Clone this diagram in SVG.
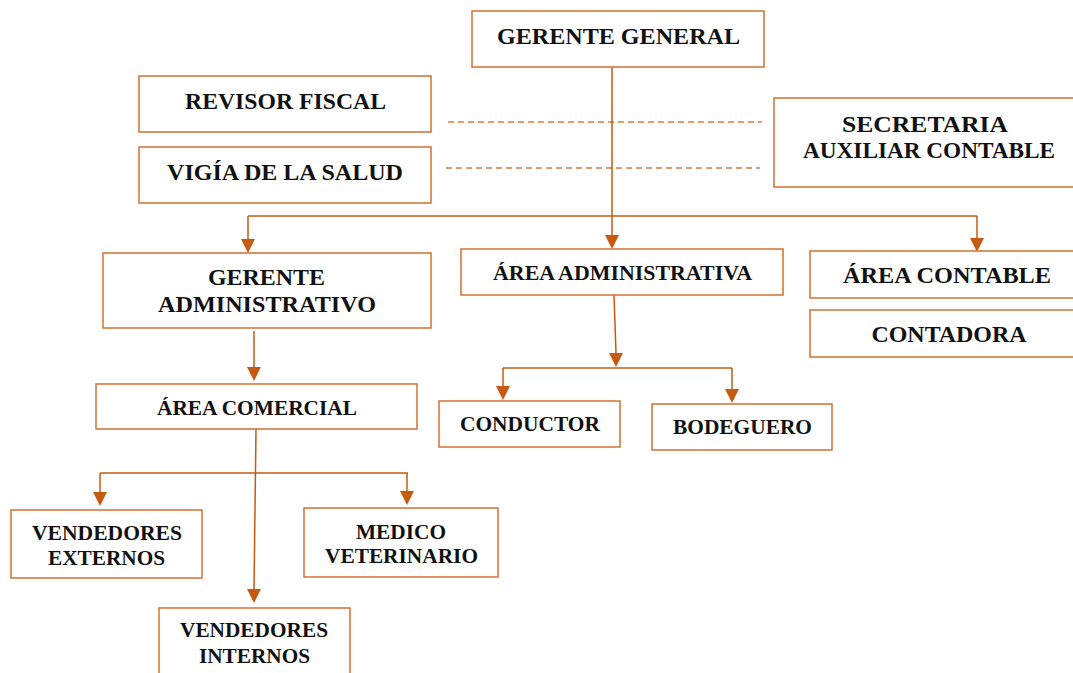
<svg xmlns="http://www.w3.org/2000/svg" width="1073" height="673" viewBox="0 0 1073 673">
<style>
.box{fill:#fff;stroke:#D5793F;stroke-width:1.6}
.t{font-family:"Liberation Serif","Times New Roman",serif;font-weight:bold;fill:#111;text-anchor:middle}
.b{font-size:23px}
.s{font-size:20.5px}
.ln{fill:none;stroke:#C55A11;stroke-width:1.5}
.ah{fill:#C55A11}
.dash{fill:none;stroke:#D5793F;stroke-width:1.5;stroke-dasharray:6,4}
</style>
<rect width="1073" height="673" fill="#fff"/>
<g id="connectors">
<path class="dash" d="M448,122 H762"/>
<path class="dash" d="M446,168 H760"/>
<path class="ln" d="M612,67 V236"/>
<path class="ah" d="M605,235 L619,235 L612,249 z"/>
<path class="ln" d="M248,216 H977"/>
<path class="ln" d="M248,216 V240"/>
<path class="ah" d="M241,239 L255,239 L248,253 z"/>
<path class="ln" d="M977,216 V240"/>
<path class="ah" d="M970,238 L984,238 L977,252 z"/>
<path class="ln" d="M254,331 V368"/>
<path class="ah" d="M247,367 L261,367 L254,381 z"/>
<path class="ln" d="M614,295 L616,354"/>
<path class="ah" d="M609,353 L623,353 L616,367 z"/>
<path class="ln" d="M503,368 H732"/>
<path class="ln" d="M503,368 V386"/>
<path class="ah" d="M496,386 L510,386 L503,400 z"/>
<path class="ln" d="M732,368 V389"/>
<path class="ah" d="M725,389 L739,389 L732,403 z"/>
<path class="ln" d="M256,429 L254,590"/>
<path class="ah" d="M247,589 L261,589 L254,603 z"/>
<path class="ln" d="M100,473 H408"/>
<path class="ln" d="M100,473 V492"/>
<path class="ah" d="M93,492 L107,492 L100,506 z"/>
<path class="ln" d="M407,473 V491"/>
<path class="ah" d="M400,491 L414,491 L407,505 z"/>
</g>
<g id="gerente-general"><rect class="box" x="472" y="11" width="292" height="56"/><text class="t b" x="618.5" y="44" textLength="243" lengthAdjust="spacingAndGlyphs">GERENTE GENERAL</text></g>
<g id="revisor-fiscal"><rect class="box" x="139" y="76" width="292" height="56"/><text class="t b" x="285.5" y="109" textLength="201" lengthAdjust="spacingAndGlyphs">REVISOR FISCAL</text></g>
<g id="vigia"><rect class="box" x="139" y="147" width="292" height="56"/><text class="t b" x="285" y="180" textLength="236" lengthAdjust="spacingAndGlyphs">VIGÍA DE LA SALUD</text></g>
<g id="secretaria"><rect class="box" x="774" y="98" width="310" height="89"/><text class="t b" x="925" y="132" textLength="166" lengthAdjust="spacingAndGlyphs">SECRETARIA</text><text class="t b" x="929" y="158" textLength="252" lengthAdjust="spacingAndGlyphs">AUXILIAR CONTABLE</text></g>
<g id="gerente-administrativo"><rect class="box" x="103" y="253" width="328" height="75"/><text class="t b" x="266.5" y="285" textLength="117" lengthAdjust="spacingAndGlyphs">GERENTE</text><text class="t b" x="267" y="312" textLength="218" lengthAdjust="spacingAndGlyphs">ADMINISTRATIVO</text></g>
<g id="area-administrativa"><rect class="box" x="461" y="249" width="322" height="46"/><text class="t s" x="622.5" y="280" textLength="259" lengthAdjust="spacingAndGlyphs">ÁREA ADMINISTRATIVA</text></g>
<g id="area-contable"><rect class="box" x="810" y="251" width="270" height="47"/><text class="t b" x="947" y="283" textLength="208" lengthAdjust="spacingAndGlyphs">ÁREA CONTABLE</text></g>
<g id="contadora"><rect class="box" x="810" y="310" width="270" height="47"/><text class="t b" x="949" y="342" textLength="155" lengthAdjust="spacingAndGlyphs">CONTADORA</text></g>
<g id="area-comercial"><rect class="box" x="96" y="384" width="321" height="45"/><text class="t s" x="257" y="415" textLength="200" lengthAdjust="spacingAndGlyphs">ÁREA COMERCIAL</text></g>
<g id="conductor"><rect class="box" x="439" y="401" width="181" height="46"/><text class="t s" x="530" y="431" textLength="140" lengthAdjust="spacingAndGlyphs">CONDUCTOR</text></g>
<g id="bodeguero"><rect class="box" x="652" y="404" width="180" height="46"/><text class="t s" x="742.5" y="434" textLength="139" lengthAdjust="spacingAndGlyphs">BODEGUERO</text></g>
<g id="vendedores-externos"><rect class="box" x="11" y="510" width="191" height="68"/><text class="t s" x="107" y="540" textLength="150" lengthAdjust="spacingAndGlyphs">VENDEDORES</text><text class="t s" x="106.5" y="565" textLength="117" lengthAdjust="spacingAndGlyphs">EXTERNOS</text></g>
<g id="medico-veterinario"><rect class="box" x="304" y="508" width="194" height="69"/><text class="t s" x="401" y="539" textLength="90" lengthAdjust="spacingAndGlyphs">MEDICO</text><text class="t s" x="401.5" y="563" textLength="153" lengthAdjust="spacingAndGlyphs">VETERINARIO</text></g>
<g id="vendedores-internos"><rect class="box" x="159" y="608" width="191" height="75"/><text class="t s" x="254" y="637" textLength="148" lengthAdjust="spacingAndGlyphs">VENDEDORES</text><text class="t s" x="254.5" y="663" textLength="111" lengthAdjust="spacingAndGlyphs">INTERNOS</text></g>
</svg>
